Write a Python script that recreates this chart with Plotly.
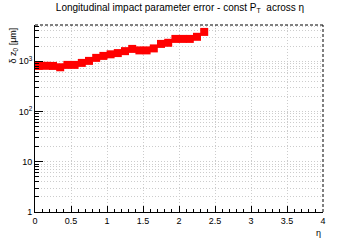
import plotly.graph_objects as go

eta = [0.05, 0.15, 0.25, 0.35, 0.45, 0.55, 0.65, 0.75, 0.85, 0.95, 1.05, 1.15,
       1.25, 1.35, 1.45, 1.55, 1.65, 1.75, 1.85, 1.95, 2.05, 2.15, 2.25, 2.35]
dz0 = [805, 810, 805, 757, 844, 844, 925, 1014, 1164, 1274, 1370, 1450,
       1585, 1755, 1640, 1640, 1796, 2207, 2324, 2775, 2775, 2775, 3055, 3823]

ytickvals = [1, 10, 100, 1000]
yticktext = ["1", "10", "10<sup>2</sup>", "10<sup>3</sup>"]
xtickvals = [0, 0.5, 1, 1.5, 2, 2.5, 3, 3.5, 4]
xticktext = ["0", "0.5", "1", "1.5", "2", "2.5", "3", "3.5", "4"]

FONT = "Liberation Sans, Arial, sans-serif"
GRID = "#cccccc"
GDASH = "1px,2px"

fig = go.Figure()
fig.add_trace(go.Scatter(
    x=eta, y=dz0, mode="markers",
    marker=dict(symbol="square", size=8, color="#ff0000", line=dict(width=0)),
    showlegend=False,
))

fig.update_layout(
    width=360, height=240,
    margin=dict(l=35, r=37, t=25, b=28),
    paper_bgcolor="white", plot_bgcolor="white",
    font=dict(family=FONT, size=9, color="black"),
    title=dict(text="Longitudinal impact parameter error - const P<sub>T</sub>  across η",
               x=0.5, xanchor="center", y=0.968, yanchor="middle",
               font=dict(family=FONT, size=10, color="black")),
    xaxis=dict(
        range=[0, 4], tickvals=xtickvals, ticktext=xticktext,
        ticks="inside", ticklen=6, tickcolor="black", tickwidth=1,
        showline=True, linecolor="black", linewidth=1, mirror=False,
        showgrid=True, gridcolor=GRID, griddash=GDASH, gridwidth=1,
        zeroline=False,
        minor=dict(dtick=0.1, ticks="inside", ticklen=3, tickcolor="black", showgrid=False),
        tickfont=dict(family=FONT, size=9),
    ),
    yaxis=dict(
        type="log", range=[0, 3.72], tickvals=ytickvals, ticktext=yticktext,
        ticks="inside", ticklen=8, tickcolor="black", tickwidth=1,
        showline=True, linecolor="black", linewidth=1, mirror=False,
        showgrid=True, gridcolor=GRID, griddash=GDASH, gridwidth=1,
        zeroline=False,
        minor=dict(dtick="D1", ticks="inside", ticklen=4, tickcolor="black",
                   showgrid=True, gridcolor=GRID, griddash=GDASH),
        tickfont=dict(family=FONT, size=9),
    ),
    shapes=[
        dict(type="line", xref="paper", yref="paper", x0=0, x1=1, y0=1, y1=1,
             line=dict(color="black", width=1, dash="3px,2px")),
        dict(type="line", xref="paper", yref="paper", x0=1, x1=1, y0=0, y1=1,
             line=dict(color="black", width=1, dash="3px,2px")),
    ],
    annotations=[
        dict(text="δ z<sub>0</sub> [μm]", xref="paper", yref="paper",
             x=-0.075, y=1.0, xanchor="center", yanchor="top", textangle=-90,
             showarrow=False, font=dict(family=FONT, size=9)),
        dict(text="η", xref="paper", yref="paper", x=1.0, y=-0.075,
             xanchor="right", yanchor="top", showarrow=False,
             font=dict(family=FONT, size=9)),
    ],
)

fig.write_html("out.html")
